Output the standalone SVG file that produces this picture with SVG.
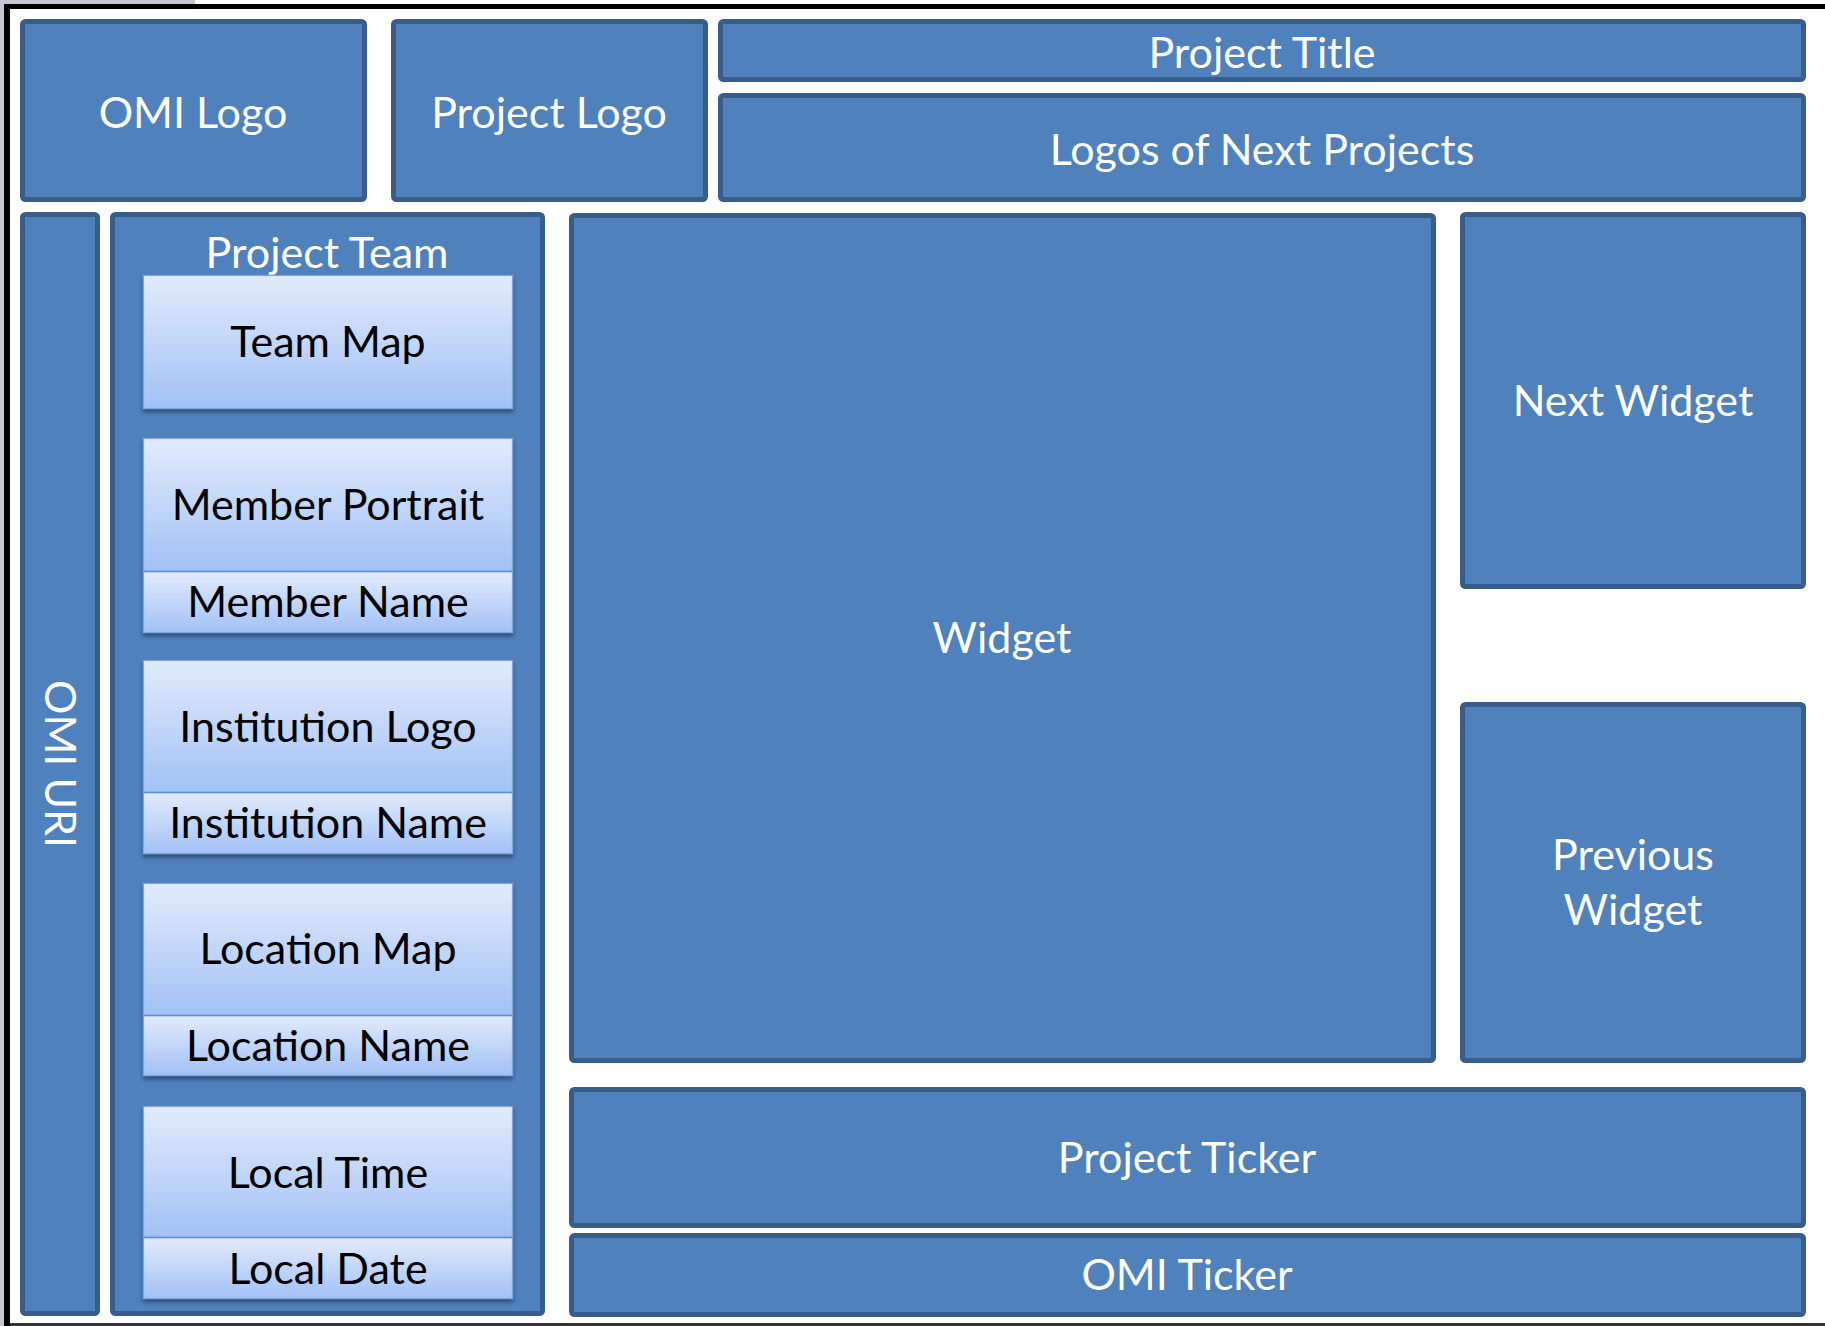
<svg xmlns="http://www.w3.org/2000/svg" width="1825" height="1326" viewBox="0 0 1825 1326">
<defs>
<linearGradient id="lg" x1="0" y1="0" x2="0" y2="1">
<stop offset="0" stop-color="#E2EBFC"/>
<stop offset="1" stop-color="#A2C1F6"/>
</linearGradient>
<filter id="sh" x="-5%" y="-10%" width="110%" height="130%">
<feGaussianBlur in="SourceAlpha" stdDeviation="2"/>
<feOffset dx="0" dy="3" result="b"/>
<feComponentTransfer><feFuncA type="linear" slope="0.45"/></feComponentTransfer>
<feMerge><feMergeNode/><feMergeNode in="SourceGraphic"/></feMerge>
</filter>
<style>
.b{fill:#4F81BD;stroke:#385D8A;stroke-width:5}
.l{fill:url(#lg);stroke:#7FA6E0;stroke-width:1.2}
.dv{stroke:#5E8FD6;stroke-width:1.5}
.tw{font-family:Lato,"Liberation Sans",sans-serif;font-size:43px;fill:#FFFFFF;text-anchor:middle}
.tk{font-family:Lato,"Liberation Sans",sans-serif;font-size:43px;fill:#000000;text-anchor:middle}
</style>
</defs>
<rect x="0" y="0" width="1825" height="1326" fill="#FFFFFF"/>
<rect x="0" y="0" width="195" height="5" fill="#C8C6D2"/>
<rect x="0" y="0" width="4" height="1326" fill="#C8C6D2"/>
<rect x="4" y="4" width="1821" height="5" fill="#000000"/>
<rect x="4" y="4" width="6" height="1322" fill="#000000"/>
<rect x="10" y="1323" width="1815" height="3" fill="#333333"/>

<g id="omi-logo"><rect class="b" x="22.5" y="21.5" width="342" height="178" rx="3"/><text class="tw" x="193" y="128">OMI Logo</text></g>
<g id="project-logo"><rect class="b" x="393.5" y="21.5" width="312" height="178" rx="3"/><text class="tw" x="549" y="128">Project Logo</text></g>
<g id="project-title"><rect class="b" x="720.5" y="21.5" width="1083" height="58" rx="3"/><text class="tw" x="1262" y="68">Project Title</text></g>
<g id="logos-next"><rect class="b" x="720.5" y="95.5" width="1083" height="104" rx="3"/><text class="tw" x="1262" y="165">Logos of Next Projects</text></g>

<g id="omi-uri"><rect class="b" x="22.5" y="214.5" width="75" height="1099" rx="3"/><text class="tw" transform="translate(45,764) rotate(90)" x="0" y="0">OMI URI</text></g>

<g id="project-team"><rect class="b" x="112.5" y="214.5" width="430" height="1099" rx="3"/><text class="tw" x="327" y="268">Project Team</text></g>

<g id="team-map"><rect class="l" x="143.5" y="275.5" width="369" height="133" filter="url(#sh)"/><text class="tk" x="328" y="357">Team Map</text></g>

<g id="member"><rect class="l" x="143.5" y="438.5" width="369" height="133" filter="url(#sh)"/><rect class="l" x="143.5" y="571.5" width="369" height="61" filter="url(#sh)"/><line class="dv" x1="143.5" y1="571.5" x2="512.5" y2="571.5"/><text class="tk" x="328" y="520">Member Portrait</text><text class="tk" x="328" y="617">Member Name</text></g>

<g id="institution"><rect class="l" x="143.5" y="660.5" width="369" height="132" filter="url(#sh)"/><rect class="l" x="143.5" y="792.5" width="369" height="61" filter="url(#sh)"/><line class="dv" x1="143.5" y1="792.5" x2="512.5" y2="792.5"/><text class="tk" x="328" y="742">Institution Logo</text><text class="tk" x="328" y="838">Institution Name</text></g>

<g id="location"><rect class="l" x="143.5" y="883.5" width="369" height="132" filter="url(#sh)"/><rect class="l" x="143.5" y="1015.5" width="369" height="60" filter="url(#sh)"/><line class="dv" x1="143.5" y1="1015.5" x2="512.5" y2="1015.5"/><text class="tk" x="328" y="964">Location Map</text><text class="tk" x="328" y="1061">Location Name</text></g>

<g id="local"><rect class="l" x="143.5" y="1106.5" width="369" height="131" filter="url(#sh)"/><rect class="l" x="143.5" y="1237.5" width="369" height="61" filter="url(#sh)"/><line class="dv" x1="143.5" y1="1237.5" x2="512.5" y2="1237.5"/><text class="tk" x="328" y="1188">Local Time</text><text class="tk" x="328" y="1284">Local Date</text></g>

<g id="widget"><rect class="b" x="571.5" y="215.5" width="862" height="845" rx="3"/><text class="tw" x="1002" y="653">Widget</text></g>
<g id="next-widget"><rect class="b" x="1462.5" y="214.5" width="341" height="372" rx="3"/><text class="tw" x="1633" y="416">Next Widget</text></g>
<g id="previous-widget"><rect class="b" x="1462.5" y="704.5" width="341" height="356" rx="3"/><text class="tw" x="1633" y="870">Previous</text><text class="tw" x="1633" y="925">Widget</text></g>
<g id="project-ticker"><rect class="b" x="571.5" y="1089.5" width="1232" height="136" rx="3"/><text class="tw" x="1187" y="1173">Project Ticker</text></g>
<g id="omi-ticker"><rect class="b" x="571.5" y="1235.5" width="1232" height="79" rx="3"/><text class="tw" x="1187" y="1290">OMI Ticker</text></g>
<g id="connectors"></g>
</svg>
